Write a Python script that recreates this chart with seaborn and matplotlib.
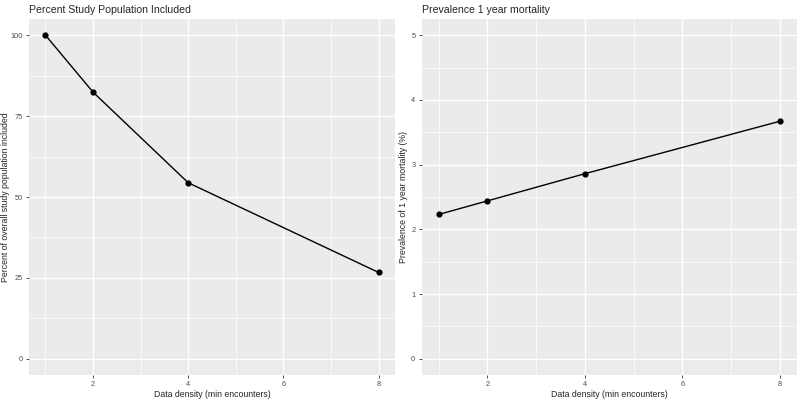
import pandas as pd
import matplotlib
matplotlib.use('Agg')
import matplotlib.pyplot as plt
import seaborn as sns
from matplotlib.ticker import MultipleLocator

# Dados
min_encounters = [1, 2, 4, 8]
pct_included = [100.0, 82.4, 54.4, 26.7]
mortality_pct = [2.23, 2.44, 2.86, 3.67]

df = pd.DataFrame({'density': min_encounters,
                   'included': pct_included,
                   'mortality': mortality_pct})

sns.set_theme(style='darkgrid', rc={
    'axes.facecolor': '#EBEBEB',
    'grid.color': 'white',
    'axes.edgecolor': '#EBEBEB',
})
plt.rcParams['font.family'] = ['Liberation Sans', 'DejaVu Sans']

fig = plt.figure(figsize=(8, 4), dpi=100)
ax1 = fig.add_axes([0.036, 0.0625, 0.458, 0.89])
ax2 = fig.add_axes([0.527, 0.0625, 0.469, 0.89])


# Função que aplica o estilo ggplot a um eixo
def style_axis(ax, title, ylabel, ymax, ymajor, ylab_x):
    ax.set_xlim(0.65, 8.35)
    ax.set_ylim(-0.05 * ymax, 1.05 * ymax)
    ax.xaxis.set_major_locator(MultipleLocator(2))
    ax.xaxis.set_minor_locator(MultipleLocator(1))
    ax.yaxis.set_major_locator(MultipleLocator(ymajor))
    ax.yaxis.set_minor_locator(MultipleLocator(ymajor / 2))
    ax.grid(which='major', color='white', linewidth=1.0)
    ax.grid(which='minor', color='white', linewidth=0.5)
    ax.tick_params(which='major', length=2.5, width=0.6, color='#333333',
                   labelsize=5.3, labelcolor='#4D4D4D', pad=2,
                   bottom=True, left=True)
    ax.tick_params(which='minor', length=0)
    ax.set_title(title, loc='left', fontsize=7.6, pad=4)
    ax.set_xlabel('Data density (min encounters)', fontsize=6.3, labelpad=1.5)
    ax.set_ylabel(ylabel, fontsize=6.3)
    ax.yaxis.set_label_coords(ylab_x, 0.5)
    for s in ax.spines.values():
        s.set_visible(False)
    ax.set_axisbelow(True)


sns.lineplot(data=df, x='density', y='included', ax=ax1, color='black',
             linewidth=1.0, marker='o', markersize=4.5, markeredgewidth=0)
style_axis(ax1, 'Percent Study Population Included',
           'Percent of overall study population included', 100, 25, -0.052)

sns.lineplot(data=df, x='density', y='mortality', ax=ax2, color='black',
             linewidth=1.0, marker='o', markersize=4.5, markeredgewidth=0)
style_axis(ax2, 'Prevalence 1 year mortality',
           'Prevalence of 1 year mortality (%)', 5, 1, -0.036)

fig.savefig('out.png', dpi=100)
plt.close()
